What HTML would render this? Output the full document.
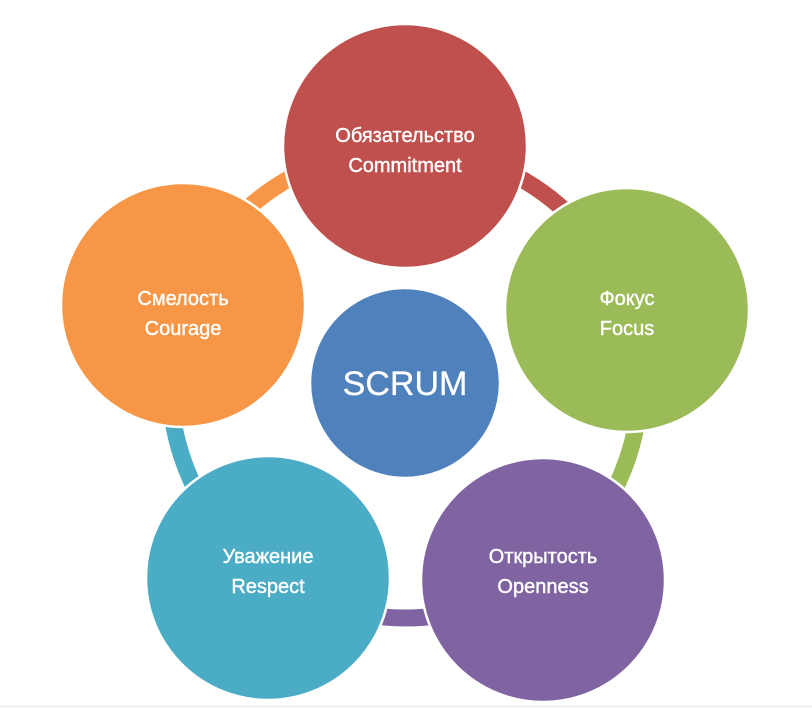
<!DOCTYPE html>
<html><head><meta charset="utf-8"><style>
html,body{margin:0;padding:0;background:#fff;width:812px;height:720px;overflow:hidden}
text{font-family:"Liberation Sans",sans-serif;fill:#fff}
</style></head><body>
<svg width="812" height="720" viewBox="0 0 812 720">
<line x1="0" y1="706.5" x2="812" y2="706.5" stroke="#ececec" stroke-width="2"/>
<g stroke-width="17" fill="none">
<path d="M405 148 A235 235 0 0 1 628.5 310.4" stroke="#C0504D"/>
<path d="M628.5 310.4 A235 235 0 0 1 543.1 573.1" stroke="#9BBB59"/>
<path d="M543.1 573.1 A235 235 0 0 1 266.9 573.1" stroke="#8064A2"/>
<path d="M266.9 573.1 A235 235 0 0 1 181.5 310.4" stroke="#4BACC6"/>
<path d="M181.5 310.4 A235 235 0 0 1 405 148" stroke="#F79646"/>
</g>
<g stroke="#fff" stroke-width="2.5">
<circle cx="405" cy="146" r="122" fill="#C0504D"/>
<circle cx="627" cy="310" r="122" fill="#9BBB59"/>
<circle cx="543" cy="580" r="122" fill="#8064A2"/>
<circle cx="268" cy="578" r="122" fill="#4BACC6"/>
<circle cx="183" cy="305" r="122" fill="#F79646"/>
<circle cx="405" cy="383" r="95" fill="#4F81BD"/>
</g>
<g font-size="20" text-anchor="middle" stroke="#fff" stroke-width="0.4">
<text x="405" y="142">Обязательство</text><text x="405" y="172">Commitment</text>
<text x="627" y="305">Фокус</text><text x="627" y="335">Focus</text>
<text x="543" y="563">Открытость</text><text x="543" y="593">Openness</text>
<text x="268" y="563">Уважение</text><text x="268" y="593">Respect</text>
<text x="183" y="305">Смелость</text><text x="183" y="335">Courage</text>
<text x="405" y="395" font-size="34" stroke-width="0.3">SCRUM</text>
</g>
</svg>
</body></html>
